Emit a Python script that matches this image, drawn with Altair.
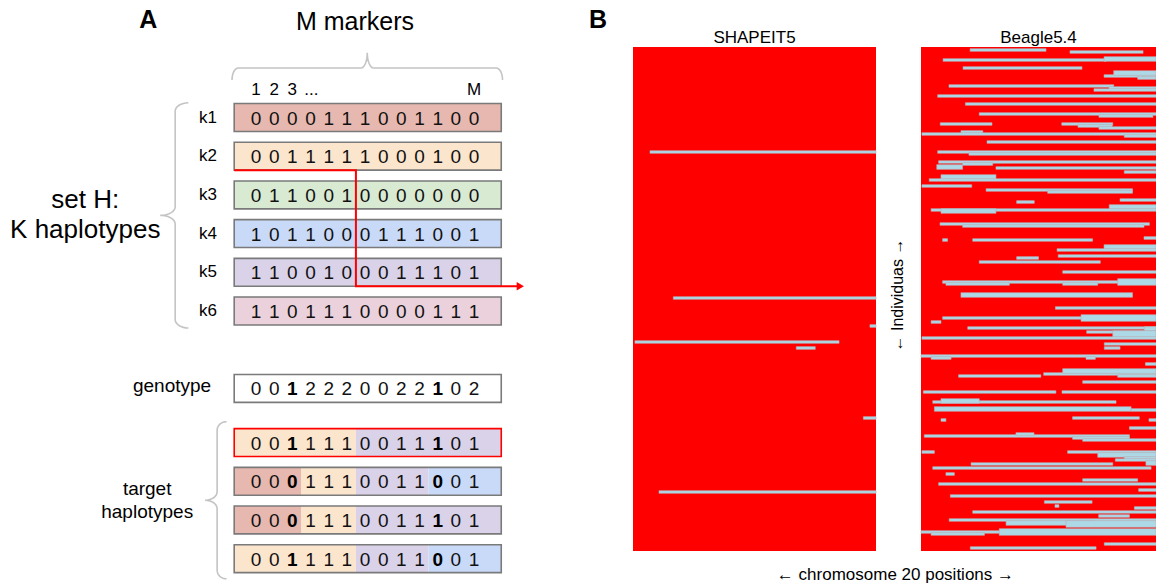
import math
import altair as alt
import pandas as pd

# ================= Panel A data =================
HAP_NAMES = ["k1", "k2", "k3", "k4", "k5", "k6"]
HAP_ALLELES = ["0000111001100", "0011111000100", "0110010000000",
               "1011000111001", "1100100011101", "1101110000111"]
HAP_COLORS = ["#e6b8af", "#fce5cd", "#d9ead3", "#c9daf8", "#d9d2e9", "#ead1dc"]
GENOTYPE = "0012220022102"
# target haplotypes as mosaics of the reference haplotypes: (source, first marker, last marker)
TARGET_MOSAICS = [
    [("k2", 1, 6), ("k5", 7, 13)],
    [("k1", 1, 3), ("k2", 4, 6), ("k5", 7, 10), ("k4", 11, 13)],
    [("k1", 1, 3), ("k2", 4, 6), ("k5", 7, 13)],
    [("k2", 1, 6), ("k5", 7, 10), ("k4", 11, 13)],
]
BOLD_MARKERS = [3, 11]
PATH_FROM, PATH_TO, SWITCH_AFTER = "k2", "k5", 6
HIGHLIGHT_TARGET = 0

# ================= Panel B data =================
# light-blue stretches: first individual row, number of rows, start %, end % of chromosome
SH_ROW = [52, 125, 139, 147, 150, 185, 222]
SH_N = [1, 1, 1, 1, 1, 1, 1]
SH_START = [7, 16.6, 97.5, 0.8, 67.2, 94.8, 10.7]
SH_END = [100, 100, 100, 84.8, 75, 100, 100]

BG_ROW = [1, 2, 6, 5, 10, 14, 12, 15, 19, 20, 21, 24, 28, 33, 34, 38, 38, 39, 40, 42,
          43, 44, 47, 52, 53, 57, 58, 59, 60, 62,
          64, 66, 69, 71, 72, 76, 77, 79, 81, 81, 88, 89, 95, 96, 96, 99, 101, 104, 105, 107,
          112, 117, 118, 118, 116, 123,
          130, 135, 137, 134, 140, 140, 142, 142, 145, 148, 150, 154, 155, 155, 158, 163, 161,
          164, 164, 167, 172, 172, 177, 176, 180, 181, 185, 186, 186,
          190, 194, 193, 195, 196, 202, 202, 203, 205, 206, 207, 208, 210, 213, 216, 218, 221,
          224, 227, 229, 230, 232, 234, 236, 237, 237, 242, 243, 241, 248, 250]
BG_N = [1, 1, 1, 2, 1, 1, 2, 1, 1, 1, 1, 1, 1, 1, 1, 1, 1, 1, 1, 1,
        1, 1, 1, 1, 1, 1, 1, 2, 1, 1,
        2, 1, 1, 1, 1, 1, 1, 2, 1, 2, 1, 1, 1, 1, 1, 2, 1, 1, 1, 1,
        1, 1, 1, 1, 3, 2,
        1, 1, 1, 3, 1, 2, 1, 3, 1, 1, 1, 1, 1, 1, 1, 1, 2,
        1, 1, 1, 1, 1, 1, 2, 2, 1, 1, 1, 1,
        1, 1, 1, 1, 1, 1, 1, 2, 1, 1, 2, 1, 1, 1, 1, 1, 1,
        1, 1, 1, 1, 1, 1, 1, 2, 3, 1, 1, 3, 1, 1]
BG_START = [20.9, 63.4, 9.4, 77.9, 17.9, 77.9, 82, 92.2, 11.9, 80, 73.6, 7.1, 18.9, 24.8, 75.7,
            8.2, 59.9, 66.8, 75.7, 17, 0.4, 86.5, 28.1, 7.1, 20.4, 7.5, 17.7, 6.7, 31.9, 86.5,
            8.5, 3.5, 0.4, 27.7, 53.9, 84.7, 40.7, 80.1, 4.3, 8.5, 8.1, 17.7, 94.9, 9.2, 22,
            77.9, 57.9, 58.4, 40.7, 24.8, 60.3, 9.2, 10.6, 60.3, 83.7, 17,
            57.2, 9.2, 4.3, 68.1, 19.9, 95, 70.5, 81.6, 0.4, 78, 78, 0, 4.3, 70.2, 95.5, 52.2,
            60.3, 16, 83.7, 68.8, 1, 60, 5, 8.5, 5.7, 89.4, 64.5, 8.5, 97,
            88.7, 1.4, 40.4, 64.5, 68.8, 0.4, 62.4, 75.2, 86.5, 82.7, 95.7, 21.3, 5, 10.6, 68.8,
            7.5, 92.6, 12.5, 52.5, 57, 90.8, 22, 75.6, 12, 36.2, 61.7, 0, 4.3, 33.3, 78, 21]
BG_END = [53.2, 94.5, 78.7, 100, 68.5, 100, 100, 100, 82, 100, 100, 100, 100, 100, 98.7,
          30.2, 81.6, 81.3, 100, 26.3, 100, 100, 100, 100, 100, 100, 30.5, 17.7, 100, 100,
          31.9, 100, 21.6, 90, 90, 100, 48.2, 100, 100, 31.9, 97.2, 94.9, 100, 11.3, 73,
          100, 100, 100, 50, 76.3, 100, 100, 37.6, 75.2, 100, 90,
          100, 100, 8.5, 100, 100, 100, 100, 100, 100, 100, 84.7, 100, 12.8, 74.2, 100, 100,
          100, 51, 100, 100, 57.4, 100, 83, 24.8, 89.4, 100, 92.9, 10.6, 100,
          100, 88.7, 48.1, 88.7, 100, 5.7, 100, 100, 100, 100, 100, 81.6, 97.9, 14.2, 92.2,
          100, 100, 100, 72.8, 58.7, 100, 100, 88.7, 100, 73.7, 100, 100, 27, 100, 100, 74.5]
N_INDIVIDUALS = 252

# ================= layout =================
FONT = "Liberation Sans"
N_MARK = len(GENOTYPE)
AX = alt.Scale(domain=[1, N_MARK], range=[256, 474], nice=False, zero=False)
AY = alt.Scale(domain=[0, 5], range=[117.5, 311], nice=False, zero=False)
B1X = alt.Scale(domain=[0, 100], range=[633, 876], nice=False, zero=False)
B2X = alt.Scale(domain=[0, 100], range=[921, 1156], nice=False, zero=False)
BY = alt.Scale(domain=[0, N_INDIVIDUALS], range=[47, 551], nice=False, zero=False)
ROW_PAD = 0.35   # extra drawn thickness of a stretch, in rows

BOX_L, BOX_R, HALF = 1 - 1.2, N_MARK + 1.5, 0.36
HAP_ROWS = list(range(len(HAP_NAMES)))
GENO_ROW = 7.0
TARGET_ROWS = [8.4 + i for i in range(len(TARGET_MOSAICS))]
col_of = dict(zip(HAP_NAMES, HAP_COLORS))
allele_of = dict(zip(HAP_NAMES, HAP_ALLELES))


def XA(f):
    return alt.X(f, scale=AX, axis=None)


def YA(f):
    return alt.Y(f, scale=AY, axis=None)


# ---- boxes ----
seg, border, digits = [], [], []
for r, name in zip(HAP_ROWS, HAP_NAMES):
    seg.append(dict(x=BOX_L, x2=BOX_R, y=r - HALF, y2=r + HALF, fill=col_of[name]))
    border.append(dict(x=BOX_L, x2=BOX_R, y=r - HALF, y2=r + HALF, stroke="#7a7a7a"))
    for m, a in enumerate(allele_of[name], start=1):
        digits.append(dict(m=m, r=r, t=a, b=False))
seg.append(dict(x=BOX_L, x2=BOX_R, y=GENO_ROW - HALF, y2=GENO_ROW + HALF, fill="#ffffff"))
border.append(dict(x=BOX_L, x2=BOX_R, y=GENO_ROW - HALF, y2=GENO_ROW + HALF, stroke="#7a7a7a"))
for m, a in enumerate(GENOTYPE, start=1):
    digits.append(dict(m=m, r=GENO_ROW, t=a, b=m in BOLD_MARKERS))
for i, (r, mosaic) in enumerate(zip(TARGET_ROWS, TARGET_MOSAICS)):
    for (src, s, e) in mosaic:
        x0 = BOX_L if s == 1 else s - 0.5
        x1 = BOX_R if e == N_MARK else e + 0.5
        seg.append(dict(x=x0, x2=x1, y=r - HALF, y2=r + HALF, fill=col_of[src]))
        for m in range(s, e + 1):
            digits.append(dict(m=m, r=r, t=allele_of[src][m - 1], b=m in BOLD_MARKERS))
    border.append(dict(x=BOX_L, x2=BOX_R, y=r - HALF, y2=r + HALF,
                       stroke="#ff0000" if i == HIGHLIGHT_TARGET else "#7a7a7a"))

seg_df = pd.DataFrame(seg)
border_df = pd.DataFrame(border)
dig_df = pd.DataFrame(digits)

box_layer = alt.Chart(seg_df).mark_rect(strokeWidth=0).encode(
    x=XA("x:Q"), x2="x2:Q", y=YA("y:Q"), y2="y2:Q", fill=alt.Fill("fill:N", scale=None))
border_layer = alt.Chart(border_df).mark_rect(fillOpacity=0, strokeWidth=1.6).encode(
    x=XA("x:Q"), x2="x2:Q", y=YA("y:Q"), y2="y2:Q", stroke=alt.Stroke("stroke:N", scale=None))
dig_norm = alt.Chart(dig_df[~dig_df.b]).mark_text(font=FONT, fontSize=19, color="#111",
                                                   baseline="middle", align="center", dy=1).encode(
    x=XA("m:Q"), y=YA("r:Q"), text="t:N")
dig_bold = alt.Chart(dig_df[dig_df.b]).mark_text(font=FONT, fontSize=19, fontWeight="bold", color="#000",
                                                  baseline="middle", align="center", dy=1).encode(
    x=XA("m:Q"), y=YA("r:Q"), text="t:N")

# ---- red copying path ----
r_from = HAP_ROWS[HAP_NAMES.index(PATH_FROM)] + HALF
r_to = HAP_ROWS[HAP_NAMES.index(PATH_TO)] + HALF
path_df = pd.DataFrame(dict(
    x=[BOX_L, SWITCH_AFTER + 0.5, SWITCH_AFTER + 0.5, BOX_R + 0.9],
    y=[r_from, r_from, r_to, r_to], i=[0, 1, 2, 3]))
path_layer = alt.Chart(path_df).mark_line(color="#ff0000", strokeWidth=2).encode(
    x=XA("x:Q"), y=YA("y:Q"), order="i:Q")
arrow_layer = alt.Chart(pd.DataFrame(dict(x=[BOX_R + 1.05], y=[r_to]))).mark_point(
    shape="triangle-right", filled=True, size=70, color="#ff0000", opacity=1).encode(
    x=XA("x:Q"), y=YA("y:Q"))


# ---- braces ----
def brace(a0, a1, c_s, c_h, c_t, ra, n=8):
    am = (a0 + a1) / 2
    pts = []
    th = [k * math.pi / 2 / n for k in range(n + 1)]
    pts += [(a0 + ra * (1 - math.cos(t)), c_h + (c_s - c_h) * math.sin(t)) for t in th]
    pts += [(am - ra + ra * math.sin(t), c_s + (c_t - c_s) * (1 - math.cos(t))) for t in th]
    pts += [(am + ra * (1 - math.cos(t)), c_t + (c_s - c_t) * math.sin(t)) for t in th]
    pts += [(a1 - ra + ra * math.sin(t), c_s + (c_h - c_s) * (1 - math.cos(t))) for t in th]
    return pts


br = []
for k, (a, c) in enumerate(brace(BOX_L - 0.12, BOX_R + 0.07, -1.28, -0.97, -1.67, 0.35)):
    br.append(dict(g="top", i=k, x=a, y=c))
for k, (a, c) in enumerate(brace(-HALF - 0.02, 5 + HALF + 0.08, -3.45, -2.72, -4.27, 0.22)):
    br.append(dict(g="setH", i=k, x=c, y=a))
for k, (a, c) in enumerate(brace(TARGET_ROWS[0] - HALF - 0.18, TARGET_ROWS[-1] + HALF + 0.16,
                                 -1.14, -0.62, -1.8, 0.22)):
    br.append(dict(g="tgt", i=k, x=c, y=a))
brace_layer = alt.Chart(pd.DataFrame(br)).mark_line(color="#c4c4c4", strokeWidth=1.6).encode(
    x=XA("x:Q"), y=YA("y:Q"), order="i:Q", detail="g:N")

# ---- panel A texts ----
def textA(df, size, weight="normal", align="center"):
    return alt.Chart(pd.DataFrame(df)).mark_text(font=FONT, fontSize=size, fontWeight=weight,
                                                 align=align, baseline="middle", color="#000").encode(
        x=XA("x:Q"), y=YA("y:Q"), text="t:N")


txt_klab = textA(dict(x=[-1.64] * 6, y=HAP_ROWS, t=HAP_NAMES), 17)
txt_cols = textA(dict(x=[1, 2, 3, 4.05, N_MARK], y=[-0.71] * 5, t=["1", "2", "3", "...", "M"]), 17)
txt_big = textA(dict(x=[-8.4, -8.4], y=[2.13, 2.9], t=["set H:", "K haplotypes"]), 26)
txt_mm = textA(dict(x=[6.45], y=[-2.47], t=["M markers"]), 25)
txt_mid = textA(dict(x=[-3.62, -4.99, -4.99], y=[GENO_ROW - 0.05, 9.6, 10.19],
                     t=["genotype", "target", "haplotypes"]), 19)
txt_A = textA(dict(x=[-4.93], y=[-2.52], t=["A"]), 25, "bold")


# ================= Panel B =================
def heat(xs, rows, n, start, end, title):
    X = lambda f: alt.X(f, scale=xs, axis=None)
    Y = lambda f: alt.Y(f, scale=BY, axis=None)
    bg = alt.Chart(pd.DataFrame(dict(x=[0], x2=[100], y=[0], y2=[N_INDIVIDUALS]))).mark_rect(
        color="#ff0000", strokeWidth=0).encode(x=X("x:Q"), x2="x2:Q", y=Y("y:Q"), y2="y2:Q")
    df = pd.DataFrame(dict(row=rows, n=n, s=start, e=end))
    df["y0"] = df["row"] - ROW_PAD / 2
    df["y1"] = df["row"] + df["n"] + ROW_PAD / 2
    segs = alt.Chart(df).mark_rect(color="#add8e6", stroke="#b8acb4", strokeWidth=0.6).encode(
        x=X("s:Q"), x2="e:Q", y=Y("y0:Q"), y2="y1:Q")
    tt = alt.Chart(pd.DataFrame(dict(x=[50], y=[-4.6], t=[title]))).mark_text(
        font=FONT, fontSize=17, baseline="middle", align="center", color="#000").encode(
        x=X("x:Q"), y=Y("y:Q"), text="t:N")
    return [bg, segs, tt]


B1 = heat(B1X, SH_ROW, SH_N, SH_START, SH_END, "SHAPEIT5")
B2 = heat(B2X, BG_ROW, BG_N, BG_START, BG_END, "Beagle5.4")


def textB(df, size, weight="normal", angle=0):
    return alt.Chart(pd.DataFrame(df)).mark_text(font=FONT, fontSize=size, fontWeight=weight, angle=angle,
                                                 align="center", baseline="middle", color="#000").encode(
        x=alt.X("x:Q", scale=B1X, axis=None), y=alt.Y("y:Q", scale=BY, axis=None), text="t:N")


txt_B = textB(dict(x=[-14.4], y=[-13.5], t=["B"]), 25, "bold")
txt_ind = textB(dict(x=[109], y=[124], t=["\u2190 Individuas \u2192"]), 16, angle=270)
txt_chr = textB(dict(x=[108], y=[264], t=["\u2190 chromosome 20 positions \u2192"]), 17)

layers = [box_layer, border_layer, path_layer, arrow_layer, brace_layer, dig_norm, dig_bold,
          txt_klab, txt_cols, txt_big, txt_mm, txt_mid, txt_A] + B1 + B2 + [txt_B, txt_ind, txt_chr]

chart = alt.layer(*layers).resolve_scale(x="independent", y="independent").properties(
    width=1156, height=587, padding=0, autosize=alt.AutoSizeParams(type="none"),
    background="white").configure_view(strokeOpacity=0)

chart.save("out.html", embed_options={"renderer": "svg", "actions": False})
